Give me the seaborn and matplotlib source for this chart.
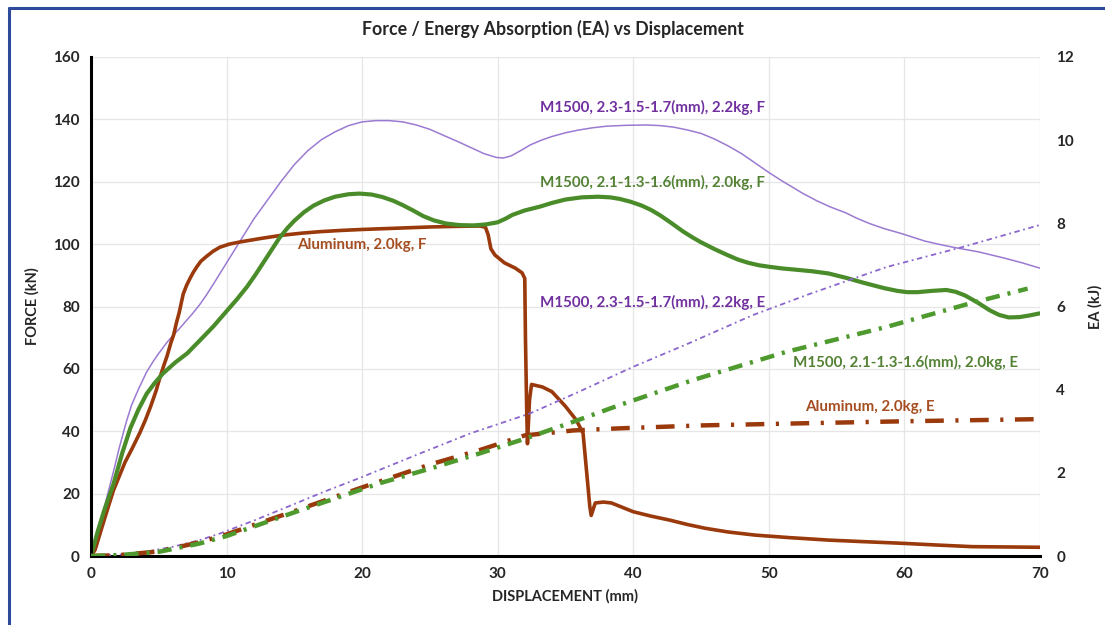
import matplotlib
matplotlib.use("Agg")
import matplotlib.pyplot as plt
import seaborn as sns
from matplotlib.lines import Line2D

# force curves (kN) vs displacement (mm)
m23_f_x = [0, 0.5, 1, 1.65, 2.1, 2.6, 3.0, 3.5, 4.1, 4.6, 5.0, 5.6, 6.1, 6.5, 7.0, 7.5, 8, 8.5, 9, 9.5, 10,
           10.5, 11, 11.5, 12, 12.5, 13, 13.5, 14, 15, 16, 17, 18, 19, 20, 21, 22, 23, 24, 25, 26.2, 27, 28,
           29, 29.9, 30.4, 31, 31.7, 32.4, 33.2, 34, 35, 36, 37, 38, 39.5, 41, 42, 43, 44, 45, 46, 47, 48, 49,
           50, 51, 51.7, 52.5, 53.5, 54.5, 55.7, 56.5, 57.5, 58.5, 59.7, 60.5, 61.5, 62.5, 63.6, 65.5, 67.4,
           68.7, 70]
m23_f_y = [0, 8, 16, 27, 35, 43, 48.5, 53.5, 59, 62.5, 65, 68.5, 71, 72.8, 75.3, 77.8, 80.5, 83.6, 87, 90.5, 94,
           97.5, 101, 104.5, 108, 111, 114, 117, 120, 125.5, 130, 133.5, 136, 138, 139.2, 139.6, 139.6, 139.2,
           138.2, 136.8, 134.5, 133, 131, 129, 127.8, 127.6, 128.3, 130, 131.8, 133.3, 134.5, 135.7, 136.6,
           137.3, 137.8, 138.1, 138.2, 138, 137.5, 136.6, 135.5, 133.7, 131.5, 129, 126, 123, 120.2, 118.4,
           116.3, 114, 112, 110, 108.3, 106.5, 105, 103.5, 102.4, 101, 100, 99, 97.5, 95.5, 94, 92.3]

m21_f_x = [0, 0.5, 1, 1.65, 2.3, 2.9, 3.5, 4.1, 4.7, 5.3, 6.2, 7.1, 8, 9, 10, 10.8, 11.5, 12.1, 12.7, 13.3,
           13.9, 14.5, 15, 15.7, 16.4, 17.2, 18, 19, 19.8, 20.7, 21.5, 22.3, 23, 23.8, 24.5, 25.3, 26.2, 27.2,
           28.2, 29.1, 30, 30.6, 31.1, 32, 33.1, 34, 35, 36.2, 37.4, 38.3, 39, 39.8, 40.6, 41.3, 42, 42.8,
           43.7, 44.4, 45, 46, 46.9, 47.7, 48.5, 49.3, 50.1, 51, 52, 53.2, 54.4, 55.7, 57, 58.5, 59.5, 60.2,
           61, 62, 63.1, 63.8, 64.5, 65.4, 66.3, 67, 67.7, 68.5, 69.2, 70]
m21_f_y = [0, 8, 15, 23, 33, 41, 47, 52, 55.5, 58.5, 62, 65, 69, 73.5, 78.5, 82.5, 86.3, 90, 94, 98,
           102, 105.2, 107.5, 110.2, 112.3, 114, 115.2, 116, 116.2, 115.9, 115.1, 113.9, 112.5, 110.7, 109,
           107.6, 106.6, 106.1, 106, 106.3, 107, 108.2, 109.4, 110.8, 112, 113.2, 114.3, 115, 115.2, 115,
           114.5, 113.6, 112.4, 111, 109.2, 106.8, 104, 102.1, 100.6, 98.4, 96.6, 95.1, 94, 93.2, 92.7, 92.2,
           91.8, 91.3, 90.6, 89.2, 87.6, 85.9, 85, 84.6, 84.6, 85, 85.3, 84.7, 83.5, 81.3, 78.8, 77.3, 76.5,
           76.6, 77.1, 77.8]

alu_f_x = [0, 0.3, 1, 1.65, 2.5, 3.0, 3.6, 4.0, 4.4, 4.8, 5.1, 5.4, 5.6, 5.9, 6.1, 6.3, 6.5, 6.65, 6.8, 7.05,
           7.3, 7.55, 7.8, 8.1, 8.5, 9.0, 9.5, 10.2, 11, 12.5, 14, 15.5, 16.9, 18.5, 20, 22.5, 25, 27, 28.7,
           29.1, 29.3, 29.5, 29.8, 30.5, 31.3, 31.8, 32.0, 32.05, 32.15, 32.2, 32.35, 32.5, 33.3, 34, 35, 35.8,
           36.3, 36.5, 36.8, 36.9, 37.2, 37.8, 38.4, 39.2, 40, 41.3, 42.7, 44, 45.3, 47, 49, 51.5, 54.4, 57,
           59.7, 62.5, 65, 67.5, 70]
alu_f_y = [0, 2, 12, 21, 30, 34.2, 39.5, 43.5, 48, 53, 57.5, 61.5, 64, 68.5, 71, 74.8, 78, 81, 84, 86.8,
           89, 91, 92.7, 94.5, 96, 97.7, 99, 100, 100.7, 101.8, 102.8, 103.5, 104, 104.4, 104.7, 105.1, 105.5,
           105.7, 105.8, 105.4, 103, 98.5, 96.5, 94, 92.3, 90.8, 89, 70, 45, 36, 50, 55, 54.2, 52.7, 48, 43.6,
           39.4, 30, 15.8, 13, 17, 17.3, 17, 15.6, 14.2, 12.8, 11.5, 10.1, 8.9, 7.7, 6.7, 5.9, 5.1, 4.6,
           4.1, 3.5, 3, 2.9, 2.8]

# energy absorption (kJ)
m23_e_x = [0, 2, 4, 6, 8, 9.5, 12, 15, 17, 20, 24.3, 28, 32.4, 36, 40, 44, 48.8, 53, 58.7, 64.3, 70]
m23_e_y = [0, 0.03, 0.1, 0.22, 0.38, 0.54, 0.85, 1.25, 1.52, 1.9, 2.47, 2.95, 3.43, 3.95, 4.55, 5.1, 5.79, 6.3,
           6.95, 7.43, 7.96]

m21_e_x = [0, 2, 5, 8, 10, 15, 21.3, 25, 28.7, 32.1, 35.6, 39, 44.4, 51.3, 58.7, 64.8, 69.1]
m21_e_y = [0, 0.02, 0.1, 0.3, 0.48, 1.05, 1.75, 2.1, 2.47, 2.83, 3.23, 3.63, 4.23, 4.91, 5.51, 6.07, 6.43]

alu_e_x = [0, 2, 5, 8, 10, 15, 20, 25, 28.7, 32, 35.6, 39, 45, 53.8, 60, 69.7]
alu_e_y = [0, 0.02, 0.11, 0.33, 0.52, 1.08, 1.65, 2.2, 2.55, 2.9, 3.02, 3.07, 3.14, 3.2, 3.24, 3.29]

labels = ["M1500, 2.3-1.5-1.7(mm), 2.2kg, F", "M1500, 2.1-1.3-1.6(mm), 2.0kg, F", "Aluminum, 2.0kg, F",
          "M1500, 2.3-1.5-1.7(mm), 2.2kg, E", "M1500, 2.1-1.3-1.6(mm), 2.0kg, E", "Aluminum, 2.0kg, E"]

purple_line = "#9B7AD2"
purple_text = "#7030A0"
green_line = "#4A8C2A"
green_text = "#548235"
brown_line = "#9A3A0C"
brown_text = "#A54E22"

sns.set_style("white")
plt.rcParams["font.family"] = ["Lato", "DejaVu Sans"]
plt.rcParams["font.weight"] = "bold"

fig = plt.figure(figsize=(11.05, 6.25), dpi=100)
ax = fig.add_axes([0.0824, 0.1104, 0.8586, 0.7984])
ax2 = ax.twinx()

rnd = dict(estimator=None, sort=False, solid_joinstyle="round", solid_capstyle="round")
sns.lineplot(x=m23_f_x, y=m23_f_y, ax=ax, color=purple_line, lw=1.1, **rnd)
sns.lineplot(x=alu_f_x, y=alu_f_y, ax=ax, color=brown_line, lw=2.6, **rnd)
sns.lineplot(x=m21_f_x, y=m21_f_y, ax=ax, color=green_line, lw=3.0, **rnd)

sns.lineplot(x=m23_e_x, y=m23_e_y, ax=ax2, color="#8B66CC", lw=1.3, estimator=None, sort=False,
             linestyle=(0, (3, 2, 1, 2)))
sns.lineplot(x=alu_e_x, y=alu_e_y, ax=ax2, color=brown_line, lw=3.2, estimator=None, sort=False,
             linestyle=(0, (4.2, 2.6, 0.7, 2.6)))
sns.lineplot(x=m21_e_x, y=m21_e_y, ax=ax2, color="#4E9A2E", lw=3.2, estimator=None, sort=False,
             linestyle=(0, (3.2, 1.8, 0.7, 1.8)))

ax.set_xlim(0, 70)
ax.set_ylim(0, 160)
ax2.set_ylim(0, 12)
ax.set_xticks(range(0, 71, 10))
ax.set_yticks(range(0, 161, 20))
ax2.set_yticks(range(0, 13, 2))
ax.grid(True, color="#E6E6E6", lw=0.9)
ax2.grid(False)

for s in ["top", "right"]:
    ax.spines[s].set_visible(False)
for s in ["top", "right", "left", "bottom"]:
    ax2.spines[s].set_visible(False)
ax.spines["left"].set_color("black")
ax.spines["left"].set_linewidth(2.2)
ax.spines["bottom"].set_color("black")
ax.spines["bottom"].set_linewidth(2.2)

ax.tick_params(axis="both", length=0, labelsize=11, pad=8)
ax2.tick_params(axis="y", length=0, labelsize=11, pad=12)
for lab in ax.get_xticklabels() + ax.get_yticklabels() + ax2.get_yticklabels():
    lab.set_fontweight("bold")

ax.set_xlabel("DISPLACEMENT (mm)", fontsize=10.5, fontweight="bold", labelpad=6)
ax.set_ylabel("FORCE (kN)", fontsize=10.5, fontweight="bold", labelpad=10)
ax2.set_ylabel("EA (kJ)", fontsize=10.5, fontweight="bold", labelpad=10)
fig.suptitle("Force / Energy Absorption (EA) vs Displacement", y=0.968, fontsize=12.8, fontweight="bold")

# series labels
fs = 10.9
ax.text(41.4, 143.9, labels[0], color=purple_text, fontsize=fs, ha="center", va="center", fontweight="bold")
ax.text(41.4, 119.9, labels[1], color=green_text, fontsize=fs, ha="center", va="center", fontweight="bold")
ax.text(20.0, 99.7, labels[2], color=brown_text, fontsize=fs, ha="center", va="center", fontweight="bold")
ax.text(41.4, 81.4, labels[3], color=purple_text, fontsize=fs, ha="center", va="center", fontweight="bold")
ax.text(60.1, 61.9, labels[4], color=green_text, fontsize=fs, ha="center", va="center", fontweight="bold")
ax.text(57.5, 47.8, labels[5], color=brown_text, fontsize=fs, ha="center", va="center", fontweight="bold")

# blue frame along left and top
fig.add_artist(Line2D([0.008, 0.008], [0.0, 0.987], color="#2E4A9A", lw=2.2, transform=fig.transFigure))
fig.add_artist(Line2D([0.008, 1.0], [0.987, 0.987], color="#2E4A9A", lw=2.2, transform=fig.transFigure))

fig.savefig("out.png", dpi=100)
